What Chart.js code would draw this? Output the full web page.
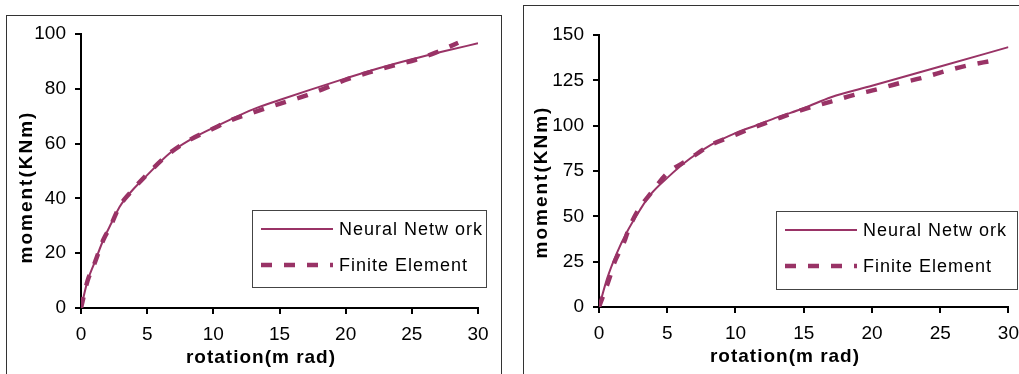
<!DOCTYPE html>
<html lang="en">
  <head>
    <meta charset="UTF-8" />
    <title>Moment vs rotation</title>
    <script src="https://cdn.jsdelivr.net/npm/chart.js"></script>
    <style>
      body { margin: 0; background: #fff; width: 1019px; height: 374px; overflow: hidden; position: relative; }
      .frame { position: absolute; border: 1px solid #333; }
      .wrap { position: absolute; top: 0; height: 374px; }
    </style>
  </head>
  <body>
    <div class="frame" style="left:6px;top:15px;width:494px;height:400px"></div>
    <div class="frame" style="left:523px;top:5px;width:600px;height:400px"></div>
    <div class="wrap" style="left:0;width:510px"><canvas id="leftChart" width="510" height="374"></canvas></div>
    <div class="wrap" style="left:510px;width:518px"><canvas id="rightChart" width="518" height="374"></canvas></div>
    <script>
      // left panel
      const leftRotNN = [0, 0.5, 1, 1.7, 2.3, 2.9, 3.4, 4, 5, 6.7, 8.2, 10, 11.2, 13, 15, 17.3, 20, 22.5, 25, 27.5, 30];
      const leftMomNN = [0, 10, 16.3, 25, 31, 36.8, 40.2, 43.6, 48.5, 56.5, 61.3, 65.8, 68.6, 72.5, 75.9, 79.6, 83.8, 87.5, 90.8, 93.8, 96.6];
      const leftRotFE = [0, 0.5, 1, 1.7, 2.2, 2.9, 3.7, 4.9, 6.7, 8.2, 10, 11.2, 13, 15, 17.1, 18.6, 20.2, 22, 23.8, 25.3, 26.8, 28.5];
      const leftMomFE = [0, 10, 16, 25, 29.5, 37, 42, 48.3, 56.5, 61.3, 65.5, 68.3, 71.3, 74.5, 77.7, 80.5, 83.6, 86.3, 88.7, 90.6, 93.2, 96.8];

      // right panel
      const rightRotNN = [0, 0.6, 1.3, 2, 3, 3.75, 5.1, 6.7, 8.2, 10, 11.6, 13.1, 15, 17, 20, 25, 30];
      const rightMomNN = [0, 15.8, 29.6, 40.7, 53.5, 61.8, 71.9, 82, 89.4, 95.9, 100.4, 104.7, 109.6, 115.7, 122, 132.6, 143.3];
      const rightRotFE = [0, 0.8, 1.05, 1.9, 2.15, 2.96, 3.7, 4.98, 6.6, 8.2, 9.75, 11.2, 12.9, 15, 17, 18.7, 20.4, 22, 23.6, 25.3, 26.9, 28.8];
      const rightMomFE = [0, 16.7, 23, 37, 42.5, 54.5, 61.8, 73.5, 81.5, 89.4, 94.2, 98.6, 103.4, 109, 113.3, 117, 120.1, 123.4, 126.2, 129.9, 133, 135.8];

      const seriesNames = ["Neural Netw ork", "Finite Element"];
      const xTitle = "rotation(m rad)";
      const yTitle = "moment(KNm)";
      const xMax = 30, xStep = 5;
      const leftYMax = 100, leftYStep = 20;
      const rightYMax = 150, rightYStep = 25;

      const plum = "#993366";

      function pairs(xs, ys) {
        return xs.map((x, i) => ({ x: x, y: ys[i] }));
      }

      // legend box + axis titles drawn on top
      const extras = {
        id: "extras",
        afterDraw(chart, args, opts) {
          const ctx = chart.ctx;
          ctx.save();
          // legend
          const b = opts.box;
          ctx.strokeStyle = "#444";
          ctx.lineWidth = 1;
          ctx.strokeRect(b.x + 0.5, b.y + 0.5, b.w, b.h);
          const rows = [b.y + 19, b.y + 55];
          chart.data.datasets.forEach((ds, i) => {
            ctx.beginPath();
            ctx.strokeStyle = ds.borderColor;
            ctx.lineWidth = ds.borderWidth;
            ctx.setLineDash(ds.borderDash || []);
            ctx.moveTo(b.x + 9, rows[i]);
            ctx.lineTo(b.x + 81, rows[i]);
            ctx.stroke();
            ctx.setLineDash([]);
            ctx.fillStyle = "#000";
            ctx.font = "18px 'Liberation Sans', Arial";
            ctx.letterSpacing = "1px";
            ctx.textBaseline = "middle";
            ctx.textAlign = "left";
            ctx.fillText(ds.label, b.x + 87, rows[i] + 1);
          });
          // axis titles
          ctx.fillStyle = "#000";
          ctx.font = "bold 19px 'Liberation Sans', Arial";
          ctx.textAlign = "center";
          ctx.textBaseline = "middle";
          ctx.letterSpacing = "1px";
          ctx.fillText(xTitle, opts.xt.x, opts.xt.y);
          ctx.translate(opts.yt.x, opts.yt.y);
          ctx.rotate(-Math.PI / 2);
          ctx.letterSpacing = "2px";
          ctx.fillText(yTitle, 0, 0);
          ctx.restore();
        },
      };

      function makeChart(id, nn, fe, yMax, yStep, geom) {
        const ctx = document.getElementById(id).getContext("2d");
        return new Chart(ctx, {
          type: "line",
          data: {
            datasets: [
              {
                label: seriesNames[0],
                data: nn,
                borderColor: plum,
                borderWidth: 2,
                pointRadius: 0,
                cubicInterpolationMode: "monotone",
                fill: false,
              },
              {
                label: seriesNames[1],
                data: fe,
                borderColor: plum,
                borderWidth: 4.5,
                borderDash: [11, 12],
                pointRadius: 0,
                cubicInterpolationMode: "monotone",
                fill: false,
              },
            ],
          },
          options: {
            responsive: false,
            animation: false,
            layout: { padding: { left: 0, top: geom.top, right: geom.right, bottom: 0 } },
            plugins: {
              legend: { display: false },
              tooltip: { enabled: false },
              extras: { box: geom.box, xt: geom.xt, yt: geom.yt },
            },
            scales: {
              x: {
                type: "linear",
                min: 0,
                max: xMax,
                afterFit: (s) => { s.height = geom.xh; },
                ticks: { stepSize: xStep, color: "#000", font: { size: 19, family: "'Liberation Sans', Arial" }, padding: 9, maxRotation: 0 },
                grid: { drawOnChartArea: false, drawTicks: true, tickLength: 6, color: "#000", lineWidth: 2 },
                border: { display: true, color: "#000", width: 2 },
              },
              y: {
                type: "linear",
                min: 0,
                max: yMax,
                afterFit: (s) => { s.width = geom.yw; },
                ticks: { stepSize: yStep, color: "#000", font: { size: 19, family: "'Liberation Sans', Arial" }, padding: 9 },
                grid: { drawOnChartArea: false, drawTicks: true, tickLength: 6, color: "#000", lineWidth: 2 },
                border: { display: true, color: "#000", width: 2 },
              },
            },
          },
          plugins: [extras],
        });
      }

      makeChart("leftChart", pairs(leftRotNN, leftMomNN), pairs(leftRotFE, leftMomFE), leftYMax, leftYStep, {
        top: 34, right: 32, xh: 66, yw: 81,
        box: { x: 252, y: 210, w: 234, h: 77 },
        xt: { x: 261, y: 358 },
        yt: { x: 27, y: 187 },
      });

      makeChart("rightChart", pairs(rightRotNN, rightMomNN), pairs(rightRotFE, rightMomFE), rightYMax, rightYStep, {
        top: 35, right: 2, xh: 67, yw: 89,
        box: { x: 266, y: 211, w: 241, h: 78 },
        xt: { x: 275, y: 357 },
        yt: { x: 32, y: 182 },
      });
    </script>
  </body>
</html>
